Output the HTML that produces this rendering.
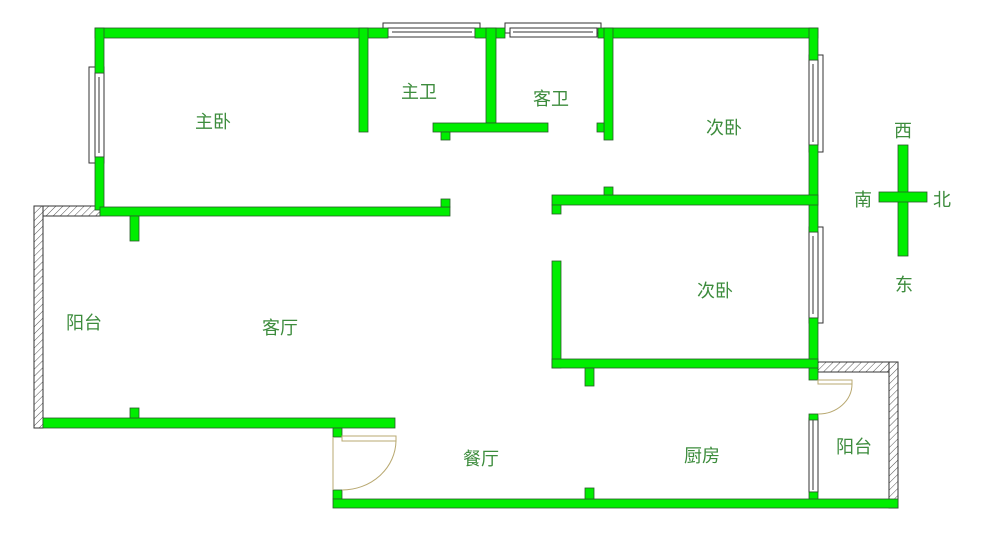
<!DOCTYPE html>
<html><head><meta charset="utf-8"><style>
html,body{margin:0;padding:0;background:#fff;}
svg text{font-family:"Liberation Sans","Noto Sans CJK SC",sans-serif;font-size:18px;fill:#3d8c3d;}
</style></head><body>
<svg width="1000" height="531" viewBox="0 0 1000 531" xmlns="http://www.w3.org/2000/svg">
<defs>
<pattern id="h" width="5" height="5" patternUnits="userSpaceOnUse" patternTransform="rotate(45)">
<rect width="5" height="5" fill="#fff"/><line x1="0" y1="0" x2="0" y2="5" stroke="#555" stroke-width="1"/>
</pattern>
</defs>
<!-- hatched balconies -->
<g stroke="#333" stroke-width="1" fill="url(#h)">
<rect x="34" y="206" width="66" height="10"/>
<rect x="34" y="206" width="9" height="222"/>
<rect x="818" y="362" width="80" height="10"/>
<rect x="889" y="362" width="9" height="146"/>
</g>
<!-- windows -->
<g fill="#fff" stroke="#333" stroke-width="1">
<rect x="383" y="23" width="97" height="10"/>
<rect x="388" y="28" width="87" height="9"/>
<line x1="392" y1="32" x2="472" y2="32"/>
<rect x="505" y="23" width="96" height="10"/>
<rect x="510" y="28" width="87" height="9"/>
<line x1="513" y1="32" x2="593" y2="32"/>
<rect x="89" y="67" width="15" height="96"/>
<rect x="95" y="73" width="9" height="84"/>
<line x1="99" y1="77" x2="99" y2="153"/>
<rect x="809" y="55" width="14" height="97"/>
<rect x="809" y="60" width="9" height="85"/>
<line x1="813" y1="64" x2="813" y2="142"/>
<rect x="809" y="227" width="14" height="96"/>
<rect x="809" y="232" width="9" height="86"/>
<line x1="813" y1="236" x2="813" y2="314"/>
<rect x="809" y="418" width="9" height="74"/>
<line x1="813" y1="420" x2="813" y2="490"/>
</g>
<!-- walls -->
<g fill="#00ee00" stroke="#2a5a2a" stroke-width="0.8">
<rect x="95" y="28" width="293" height="10"/>
<rect x="475" y="28" width="30" height="10"/>
<rect x="598" y="28" width="220" height="10"/>
<rect x="95" y="28" width="9" height="45"/>
<rect x="95" y="157" width="9" height="53"/>
<rect x="359" y="28" width="9" height="104"/>
<rect x="486" y="28" width="10" height="95"/>
<rect x="433" y="123" width="115" height="9"/>
<rect x="441" y="132" width="9" height="8"/>
<rect x="604" y="28" width="9" height="112"/>
<rect x="597" y="123" width="7" height="9"/>
<rect x="809" y="28" width="9" height="32"/>
<rect x="809" y="145" width="9" height="87"/>
<rect x="809" y="318" width="9" height="62"/>
<rect x="809" y="414" width="9" height="6"/>
<rect x="809" y="492" width="9" height="8"/>
<rect x="552" y="195" width="266" height="10"/>
<rect x="552" y="205" width="9" height="9"/>
<rect x="604" y="187" width="9" height="8"/>
<rect x="100" y="207" width="350" height="9"/>
<rect x="441" y="199" width="9" height="8"/>
<rect x="130" y="216" width="9" height="25"/>
<rect x="43" y="418" width="352" height="10"/>
<rect x="130" y="408" width="9" height="10"/>
<rect x="333" y="428" width="9" height="9"/>
<rect x="333" y="490" width="9" height="9"/>
<rect x="333" y="499" width="565" height="9"/>
<rect x="585" y="488" width="9" height="11"/>
<rect x="552" y="261" width="9" height="107"/>
<rect x="552" y="359" width="266" height="9"/>
<rect x="585" y="368" width="9" height="18"/>
<rect x="898" y="145" width="10" height="111"/>
<rect x="879" y="192" width="48" height="10"/>
</g>
<!-- doors -->
<g fill="none" stroke="#b8a870" stroke-width="1">
<rect x="342" y="436" width="54" height="5" fill="#fff"/>
<line x1="333" y1="437" x2="333" y2="490"/>
<path d="M396 441 A54 50 0 0 1 342 490"/>
<rect x="818" y="380" width="34" height="4" fill="#fff"/>
<path d="M852 384 A34 30 0 0 1 818 414"/>
</g>
<!-- labels -->
<text x="195" y="128">主卧</text>
<text x="401" y="98">主卫</text>
<text x="533" y="105">客卫</text>
<text x="706" y="134">次卧</text>
<text x="697" y="297">次卧</text>
<text x="66" y="329">阳台</text>
<text x="262" y="334">客厅</text>
<text x="463" y="465">餐厅</text>
<text x="684" y="462">厨房</text>
<text x="836" y="453">阳台</text>
<text x="894" y="137">西</text>
<text x="854" y="206">南</text>
<text x="933" y="206">北</text>
<text x="895" y="291">东</text>
</svg>
</body></html>
